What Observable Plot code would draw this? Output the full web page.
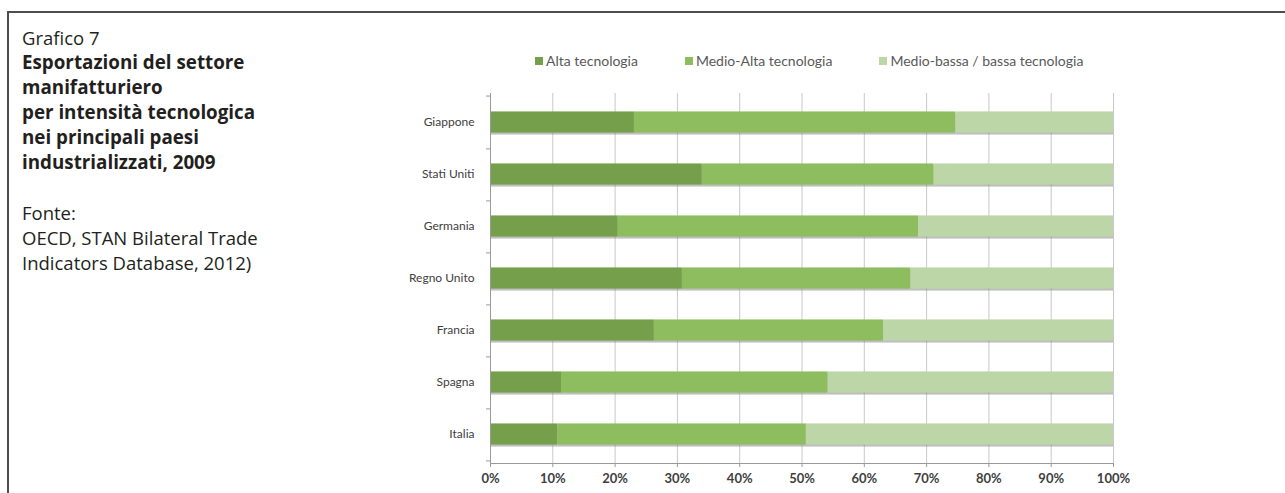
<!DOCTYPE html>
<html><head><meta charset="utf-8">
<script src="https://cdn.jsdelivr.net/npm/d3@7"></script>
<script src="https://cdn.jsdelivr.net/npm/@observablehq/plot@0.6"></script>
<style>
html,body{margin:0;padding:0;background:#fff;}
#page{position:relative;width:1285px;height:493px;overflow:hidden;background:#fff;}
#frame{position:absolute;left:7px;top:11px;width:1300px;height:500px;border-left:2px solid #4d4d4d;border-top:2px solid #4d4d4d;}
#side{position:absolute;left:22px;top:25px;font-family:"Open Sans";font-size:18.5px;line-height:25px;color:#231f20;white-space:nowrap;}
#side .b{font-weight:700;font-size:18.8px;}
#legend{position:absolute;top:52px;left:535px;display:flex;gap:47px;font-family:Lato;font-size:14px;color:#595959;line-height:18px;}
#legend .item{display:flex;align-items:center;white-space:nowrap;}
#legend .sw{display:inline-block;width:8px;height:8px;margin-right:3px;}
#chart{position:absolute;left:380px;top:75px;}
</style>
</head><body>
<div id="page">
  <div id="frame"></div>
  <div id="side"></div>
  <div id="legend"></div>
  <div id="chart"></div>
</div>
<script>
// ---- data ----
const countries = ["Giappone","Stati Uniti","Germania","Regno Unito","Francia","Spagna","Italia"];
const seriesNames = ["Alta tecnologia","Medio-Alta tecnologia","Medio-bassa / bassa tecnologia"];
const alta      = [23.1, 34.0, 20.5, 30.8, 26.3, 11.4, 10.8];
const medioAlta = [51.6, 37.2, 48.2, 36.7, 36.8, 42.8, 39.9];
const bassa     = [25.3, 28.8, 31.3, 32.5, 36.9, 45.8, 49.3];
const xTicks = [0,10,20,30,40,50,60,70,80,90,100];
const colors = ["#769f4b","#8dbd5e","#bcd6a7"];
const sideLines = [
  {t:"Grafico 7", b:false},
  {t:"Esportazioni del settore", b:true},
  {t:"manifatturiero", b:true},
  {t:"per intensità tecnologica", b:true},
  {t:"nei principali paesi", b:true},
  {t:"industrializzati, 2009", b:true},
  {t:"\u00a0", b:false},
  {t:"Fonte:", b:false},
  {t:"OECD, STAN Bilateral Trade", b:false},
  {t:"Indicators Database, 2012)", b:false}
];

// ---- side text ----
const side = document.getElementById("side");
sideLines.forEach(l => {
  const d = document.createElement("div");
  d.textContent = l.t;
  if (l.b) d.className = "b";
  side.appendChild(d);
});

// ---- legend ----
const legend = document.getElementById("legend");
seriesNames.forEach((s, i) => {
  const it = document.createElement("div");
  it.className = "item";
  const sw = document.createElement("span");
  sw.className = "sw";
  sw.style.background = colors[i];
  it.appendChild(sw);
  it.appendChild(document.createTextNode(s));
  legend.appendChild(it);
});

// ---- table ----
const seriesValues = [alta, medioAlta, bassa];
const data = [];
countries.forEach((c, ci) => {
  seriesNames.forEach((s, si) => data.push({country: c, series: s, value: seriesValues[si][ci]}));
});

const W = 905, H = 418, mt = 18, mb = 30, ml = 110, mr = 172;
const band = (H - mt - mb) / countries.length;
const inset = (band - 22) / 2;

const chart = Plot.plot({
  width: W, height: H,
  marginTop: mt, marginBottom: mb, marginLeft: ml, marginRight: mr,
  style: {fontFamily: "Lato", background: "transparent", overflow: "visible"},
  x: {domain: [0, 100], label: null},
  y: {domain: countries, padding: 0, label: null},
  color: {domain: seriesNames, range: colors},
  marks: [
    Plot.gridX(xTicks, {stroke: "#c8c8c8", strokeOpacity: 1}),
    Plot.barX(data, Plot.stackX({x: "value", y: "country", fill: "#8a8a8a", fillOpacity: 0.55, dy: 2, insetTop: inset, insetBottom: inset})),
    Plot.barX(data, Plot.stackX({x: "value", y: "country", fill: "series", insetTop: inset, insetBottom: inset})),
    Plot.ruleX([0], {stroke: "#9a9a9a"}),
    Plot.frame({anchor: "bottom", stroke: "#9a9a9a"}),
    Plot.ruleY(countries, {y: d => d, dy: band / 2, x1: 0, x2: 0, insetLeft: -4, stroke: "#9a9a9a"}),
    Plot.ruleY(countries.slice(0, 1), {y: d => d, dy: -band / 2, x1: 0, x2: 0, insetLeft: -4, stroke: "#9a9a9a"}),
    Plot.axisX(xTicks, {tickSize: 4, text: null, stroke: "#9a9a9a"}),
    Plot.axisX(xTicks, {tickSize: 0, tickPadding: 10, tickFormat: d => d + "%", fill: "#404040", fontWeight: "bold", fontSize: 13}),
    Plot.axisY({tickSize: 0, tickPadding: 16, fill: "#404040", fontSize: 12})
  ]
});
document.getElementById("chart").appendChild(chart);
</script>
</body></html>
